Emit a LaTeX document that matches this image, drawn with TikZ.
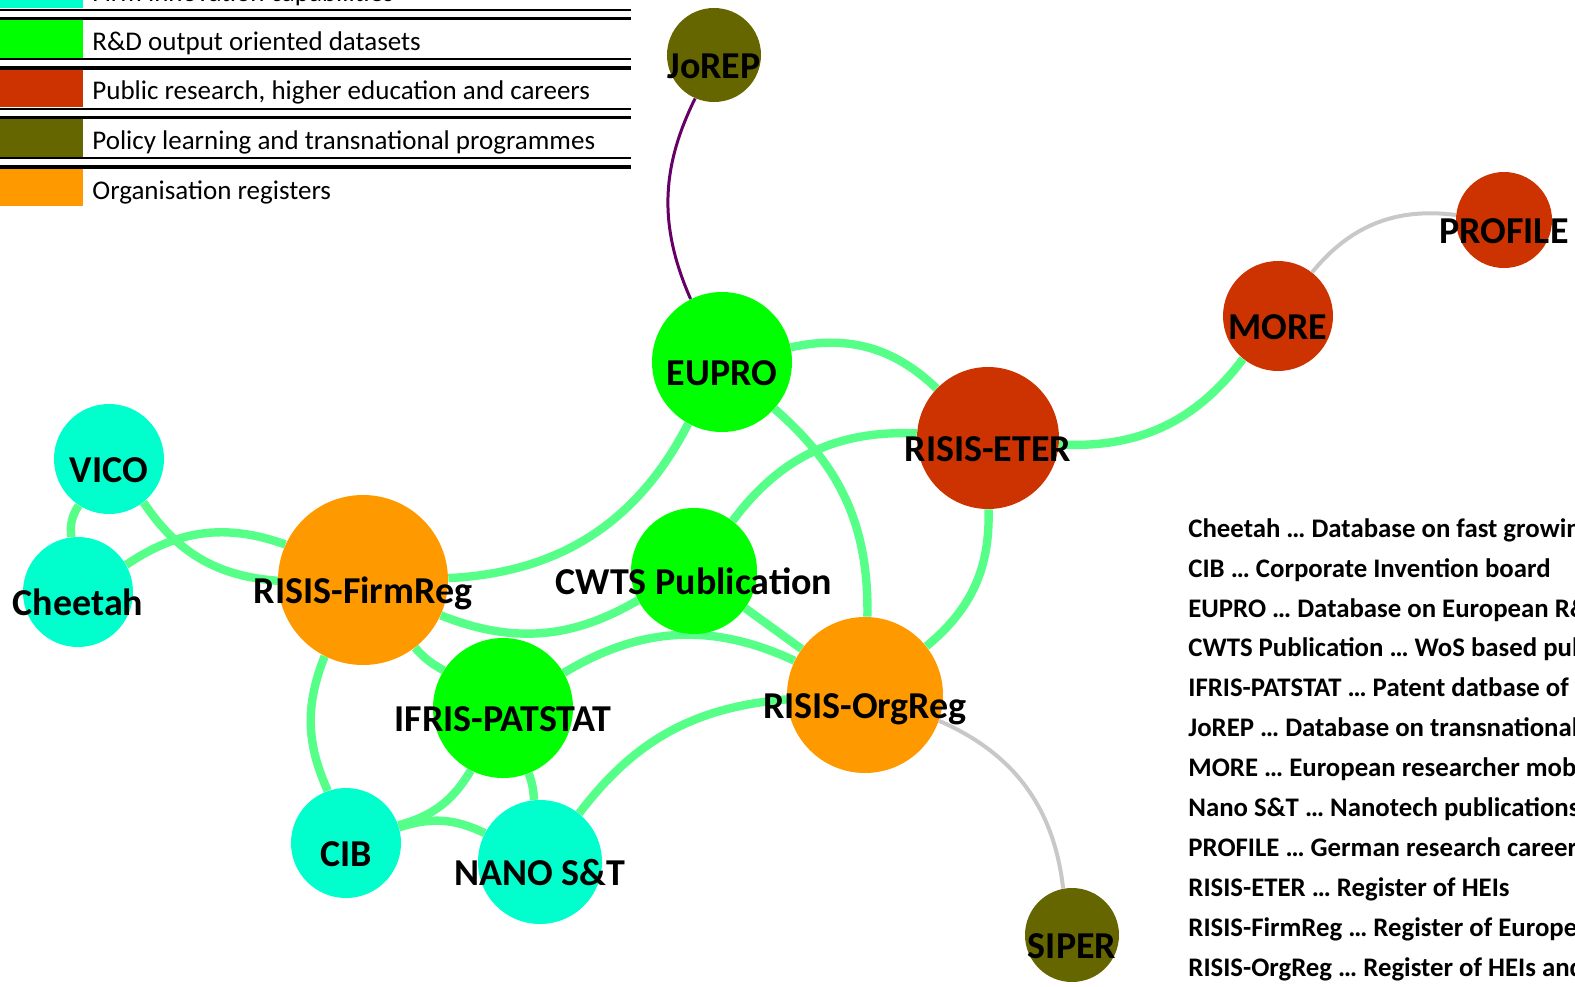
\documentclass[tikz,border=0pt]{standalone}
\usepackage{fontspec}
\setmainfont{Carlito}
\usetikzlibrary{backgrounds}

\definecolor{firmcol}{HTML}{00FFCC}
\definecolor{rdcol}{HTML}{00FF00}
\definecolor{pubcol}{HTML}{CC3300}
\definecolor{polcol}{HTML}{666600}
\definecolor{orgcol}{HTML}{FF9900}
\definecolor{linkcol}{HTML}{55FF88}
\definecolor{greylink}{HTML}{C8C8C8}
\definecolor{purplelink}{HTML}{660066}

\begin{document}
\begin{tikzpicture}[x=0.5pt,y=-0.5pt,
  db/.style={circle,inner sep=0pt,draw=none},
  lbl/.style={font=\fontsize{19}{19}\selectfont\bfseries,inner sep=0pt,text height=0.63em,text depth=0pt,yshift=-8.5pt},
  link/.style={linkcol,line width=4.2pt},
  weak/.style={greylink,line width=2pt},
  legtext/.style={anchor=base west,inner sep=0pt,font=\fontsize{13.5}{13.5}\selectfont},
  desc/.style={anchor=base west,inner sep=0pt,font=\fontsize{13.4}{13.4}\selectfont\bfseries}]
\useasboundingbox (0,0) rectangle (1575,986);
\clip (0,0) rectangle (1575,986);

\fill[firmcol] (0,-40) rectangle (83,7.5);
\fill[rdcol] (0,20) rectangle (83,57.7);
\fill[pubcol] (0,69.5) rectangle (83,107.2);
\fill[polcol] (0,119) rectangle (83,156.7);
\fill[orgcol] (0,168.5) rectangle (83,206.2);
\draw[line width=1pt] (0,9.5) -- (631,9.5);
\draw[line width=1pt] (0,59) -- (631,59);
\draw[line width=1pt] (0,108.5) -- (631,108.5);
\draw[line width=1pt] (0,158) -- (631,158);
\draw[line width=1.7pt] (0,18.3) -- (631,18.3);
\draw[line width=1.7pt] (0,67.8) -- (631,67.8);
\draw[line width=1.7pt] (0,117.3) -- (631,117.3);
\draw[line width=1.7pt] (0,166.8) -- (631,166.8);
\node[legtext] (lfirm) at (92,1) {Firm innovation capabilities};
\node[legtext] (lrd) at (92,50) {R\&D output oriented datasets};
\node[legtext] (lpub) at (92,99.5) {Public research, higher education and careers};
\node[legtext] (lpol) at (92,149) {Policy learning and transnational programmes};
\node[legtext] (lorg) at (92,199) {Organisation registers};

\node[db,fill=polcol,minimum size=47pt,label={[lbl]center:JoREP}] (jorep) at (714,55) {};
\node[db,fill=rdcol,minimum size=70pt,label={[lbl]center:EUPRO}] (eupro) at (722,362) {};
\node[db,fill=pubcol,minimum size=71pt,label={[lbl]center:RISIS-ETER}] (eter) at (988,438) {};
\node[db,fill=pubcol,minimum size=55pt,label={[lbl]center:MORE}] (more) at (1278,316) {};
\node[db,fill=pubcol,minimum size=48pt,label={[lbl]center:PROFILE}] (profile) at (1504,220) {};
\node[db,fill=firmcol,minimum size=55pt,label={[lbl]center:VICO}] (vico) at (109,459) {};
\node[db,fill=firmcol,minimum size=55pt,label={[lbl]center:Cheetah}] (cheetah) at (78,592) {};
\node[db,fill=orgcol,minimum size=85pt,label={[lbl]center:RISIS-FirmReg}] (firmreg) at (363,580) {};
\node[db,fill=rdcol,minimum size=63pt,label={[lbl]center:CWTS Publication}] (cwts) at (694,571) {};
\node[db,fill=rdcol,minimum size=70pt,label={[lbl]center:IFRIS-PATSTAT}] (patstat) at (503,708) {};
\node[db,fill=orgcol,minimum size=78pt,label={[lbl]center:RISIS-OrgReg}] (orgreg) at (865,695) {};
\node[db,fill=firmcol,minimum size=55pt,label={[lbl]center:CIB}] (cib) at (346,843) {};
\node[db,fill=firmcol,minimum size=62pt,label={[lbl]center:NANO S\&T}] (nano) at (540,862) {};
\node[db,fill=polcol,minimum size=47pt,label={[lbl]center:SIPER}] (siper) at (1072,935) {};

\begin{scope}[on background layer]
\draw[purplelink,line width=1.5pt] (jorep) to[bend right=25] (eupro);
\draw[link] (eupro) to[bend left=28] (eter);
\draw[link] (eupro) to[bend left=30] (firmreg);
\draw[link] (eupro) to[bend left=25] (orgreg);
\draw[link] (eter) to[bend right=28] (more);
\draw[weak] (more) to[bend left=29] (profile);
\draw[link] (eter) to[bend right=28] (cwts);
\draw[link] (eter) to[bend left=26] (orgreg);
\draw[link] (vico) to[bend right=20] (cheetah);
\draw[link] (vico) to[bend right=26] (firmreg);
\draw[link] (cheetah) to[bend left=27] (firmreg);
\draw[link] (firmreg) to[bend right=26] (cwts);
\draw[link] (firmreg) to[bend right=10] (patstat);
\draw[link] (firmreg) to[bend right=23] (cib);
\draw[link] (cwts) -- (orgreg);
\draw[link] (patstat) to[bend left=28] (orgreg);
\draw[link] (patstat) to[bend left=22] (cib);
\draw[link] (patstat) to[bend left=8] (nano);
\draw[link] (cib) to[bend left=22] (nano);
\draw[link] (nano) to[bend left=24] (orgreg);
\draw[weak] (orgreg) to[bend left=30] (siper);
\end{scope}

\node[desc] (dcheetah) at (1188,537) {Cheetah … Database on fast growing};
\node[desc] (dcib) at (1188,577) {CIB … Corporate Invention board};
\node[desc] (deupro) at (1188,617) {EUPRO … Database on European R\&D};
\node[desc] (dcwts) at (1188,656.5) {CWTS Publication … WoS based pub};
\node[desc] (dpatstat) at (1188,696.5) {IFRIS-PATSTAT … Patent datbase of};
\node[desc] (djorep) at (1188,736.5) {JoREP … Database on transnational};
\node[desc] (dmore) at (1188,776.5) {MORE … European researcher mobi};
\node[desc] (dnano) at (1188,816) {Nano S\&T … Nanotech publications};
\node[desc] (dprofile) at (1188,856) {PROFILE … German research career};
\node[desc] (deter) at (1188,896) {RISIS-ETER … Register of HEIs};
\node[desc] (dfirmreg) at (1188,936) {RISIS-FirmReg … Register of Europe};
\node[desc] (dorgreg) at (1188,976) {RISIS-OrgReg … Register of HEIs and};
\end{tikzpicture}
\end{document}
